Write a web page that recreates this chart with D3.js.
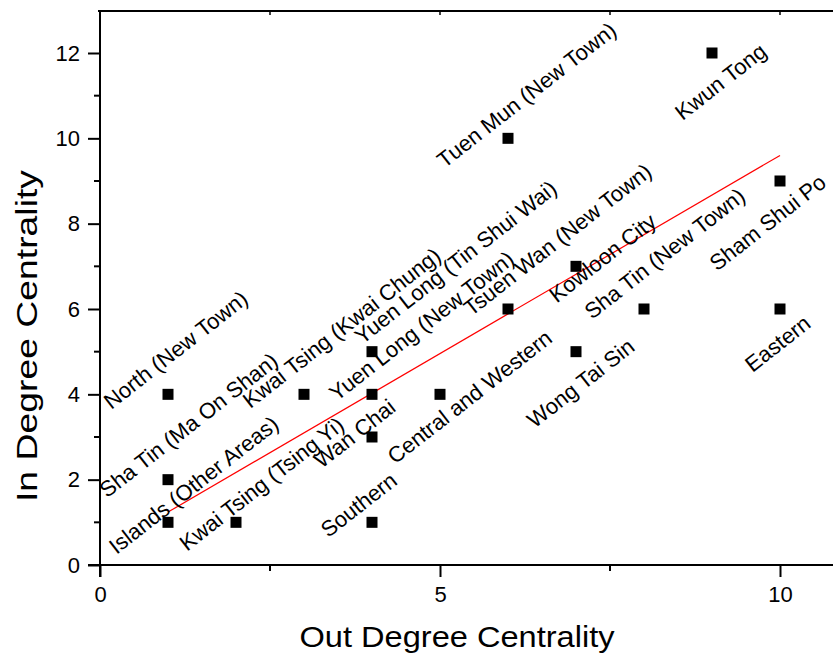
<!DOCTYPE html>
<html>
<head>
<meta charset="utf-8">
<script src="https://cdn.jsdelivr.net/npm/d3@7"></script>
<style>
  html, body { margin: 0; padding: 0; background: #fff; }
  svg { display: block; font-family: Arial, "Liberation Sans", sans-serif; }
</style>
</head>
<body>
<svg id="chart" width="833" height="657"></svg>
<script>
// District network centrality: out-degree vs in-degree
const districts = [
  "North (New Town)", "Sha Tin (Ma On Shan)", "Islands (Other Areas)",
  "Kwai Tsing (Tsing Yi)", "Kwai Tsing (Kwai Chung)", "Yuen Long (Tin Shui Wai)",
  "Yuen Long (New Town)", "Wan Chai", "Southern", "Central and Western",
  "Tuen Mun (New Town)", "Tsuen Wan (New Town)", "Kowloon City", "Wong Tai Sin",
  "Sha Tin (New Town)", "Kwun Tong", "Sham Shui Po", "Eastern"
];
const outDegree = [1, 1, 1, 2, 3, 4, 4, 4, 4, 5, 6, 6, 7, 7, 8, 9, 10, 10];
const inDegree  = [4, 2, 1, 1, 4, 5, 4, 3, 1, 4, 10, 6, 7, 5, 6, 12, 9, 6];

// Linear fit drawn across the data range
const fitX = [1, 10];
const fitY = [1.24, 9.6];

const xTicks = [0, 5, 10];
const xMinorTicks = [2.5, 7.5];
const yTicks = [0, 2, 4, 6, 8, 10, 12];
const yMinorTicks = [1, 3, 5, 7, 9, 11];

// Label placement: offset of each label's centre from its marker (px)
const labelShift = [
  [8, -44], [21, -54], [26, -37], [26, -38], [38, -66], [84, -89],
  [50, -68], [-17, -3], [-13, -17], [30, 3], [19, -43], [50, -69],
  [27, -8], [5, 32], [21, -55], [9, 29], [-12, 42], [-2, 35]
];
const labelAngle = -38;

const svg = d3.select("#chart");
const plotLeft = 100, plotTop = 11, plotBottom = 565;

const x = d3.scaleLinear().domain([0, 10.8]).range([plotLeft, plotLeft + 68 * 10.8]);
const y = d3.scaleLinear().domain([0, 13]).range([plotBottom, plotBottom - 42.667 * 13]);

const axisColor = "#000";

// Top frame line with small inward ticks
svg.append("line")
  .attr("x1", plotLeft - 2).attr("x2", 833)
  .attr("y1", plotTop).attr("y2", plotTop)
  .attr("stroke", axisColor).attr("stroke-width", 2);
svg.append("g").selectAll("line").data(xTicks.concat(xMinorTicks)).join("line")
  .attr("x1", d => x(d)).attr("x2", d => x(d))
  .attr("y1", plotTop).attr("y2", plotTop + 4)
  .attr("stroke", axisColor).attr("stroke-width", 1.5);

// Bottom axis
const xAxis = d3.axisBottom(x).tickValues(xTicks).tickSize(12).tickPadding(9).tickFormat(d3.format("d"));
const gx = svg.append("g").attr("transform", `translate(0,${plotBottom})`).call(xAxis);
gx.select(".domain").remove();
gx.append("line").attr("x1", plotLeft - 12).attr("x2", 833).attr("stroke", axisColor).attr("stroke-width", 2);
gx.selectAll(".tick line").attr("stroke", axisColor).attr("stroke-width", 2);
gx.selectAll(".tick text").attr("font-size", 22).attr("fill", "#000")
  .attr("font-family", "Arial, 'Liberation Sans', sans-serif");
gx.append("g").selectAll("line").data(xMinorTicks).join("line")
  .attr("x1", d => x(d)).attr("x2", d => x(d)).attr("y1", 0).attr("y2", 6)
  .attr("stroke", axisColor).attr("stroke-width", 2);

// Left axis
const yAxis = d3.axisLeft(y).tickValues(yTicks).tickSize(12).tickPadding(8).tickFormat(d3.format("d"));
const gy = svg.append("g").attr("transform", `translate(${plotLeft},0)`).call(yAxis);
gy.select(".domain").remove();
gy.append("line").attr("y1", plotTop - 1).attr("y2", plotBottom + 12).attr("stroke", axisColor).attr("stroke-width", 2);
gy.selectAll(".tick line").attr("stroke", axisColor).attr("stroke-width", 2);
gy.selectAll(".tick text").attr("font-size", 22).attr("fill", "#000")
  .attr("font-family", "Arial, 'Liberation Sans', sans-serif");
gy.append("g").selectAll("line").data(yMinorTicks).join("line")
  .attr("x1", -6).attr("x2", 0).attr("y1", d => y(d)).attr("y2", d => y(d))
  .attr("stroke", axisColor).attr("stroke-width", 2);

// Axis titles
svg.append("text")
  .attr("x", 457).attr("y", 647)
  .attr("text-anchor", "middle").attr("font-size", 30).attr("fill", "#000")
  .attr("textLength", 315).attr("lengthAdjust", "spacingAndGlyphs")
  .text("Out Degree Centrality");
svg.append("text")
  .attr("transform", `translate(37,336) rotate(-90)`)
  .attr("text-anchor", "middle").attr("font-size", 30).attr("fill", "#000")
  .attr("textLength", 332).attr("lengthAdjust", "spacingAndGlyphs")
  .text("In Degree Centrality");

// Fit line
svg.append("line")
  .attr("x1", x(fitX[0])).attr("y1", y(fitY[0]))
  .attr("x2", x(fitX[1])).attr("y2", y(fitY[1]))
  .attr("stroke", "#ff0000").attr("stroke-width", 1.2);

// Markers
const size = 11;
svg.append("g").selectAll("rect").data(districts).join("rect")
  .attr("x", (d, i) => x(outDegree[i]) - size / 2)
  .attr("y", (d, i) => y(inDegree[i]) - size / 2)
  .attr("width", size).attr("height", size)
  .attr("fill", "#000");

// District labels
svg.append("g").selectAll("text").data(districts).join("text")
  .attr("transform", (d, i) =>
    `translate(${x(outDegree[i]) + labelShift[i][0]},${y(inDegree[i]) + labelShift[i][1]}) rotate(${labelAngle})`)
  .attr("text-anchor", "middle").attr("dy", "0.32em")
  .attr("font-size", 22).attr("fill", "#000")
  .text(d => d);
</script>
</body>
</html>
